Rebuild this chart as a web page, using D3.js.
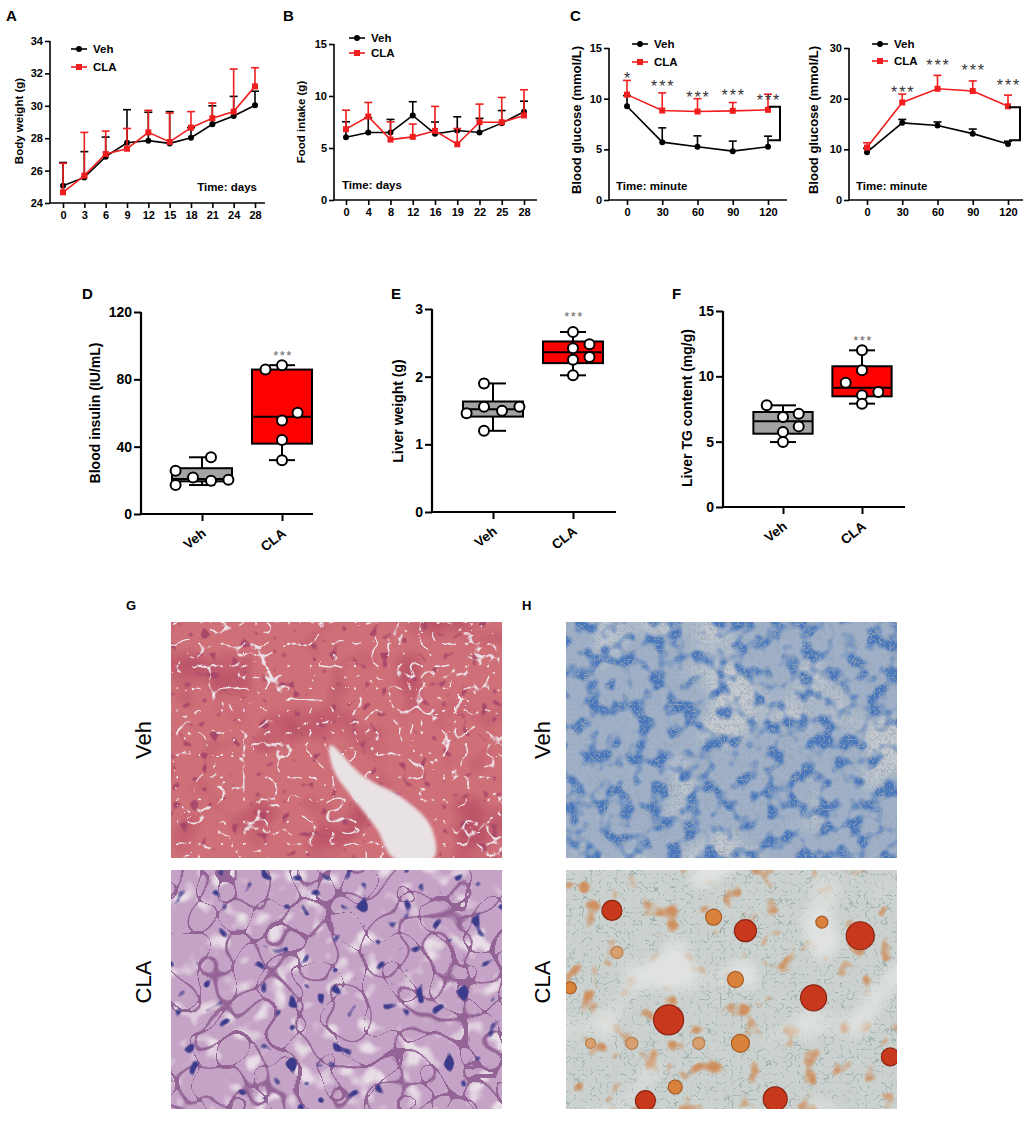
<!DOCTYPE html>
<html><head><meta charset="utf-8">
<script src="https://cdn.jsdelivr.net/npm/d3@7"></script>
<style>body{margin:0;background:#fff}svg{display:block}text{font-family:"Liberation Sans",Arial,sans-serif}</style>
</head><body><svg id="fig" width="1030" height="1130"></svg>
<script>
// ---------------- DATA ----------------
// A: body weight
const aDays = ["0","3","6","9","12","15","18","21","24","28"];
const aVeh = [25.07,25.58,26.86,27.72,27.85,27.68,28.03,28.86,29.37,30.03];
const aVehErr = [26.5,27.17,28.07,29.76,29.6,29.64,28.65,30.0,30.58,30.9];
const aCla = [24.66,25.69,27.03,27.35,28.36,27.77,28.65,29.23,29.64,31.2];
const aClaErr = [26.45,28.36,28.44,28.6,29.72,29.55,29.64,30.17,32.27,32.35];
const aYTicks = [24,26,28,30,32,34];
// B: food intake
const bDays = ["0","4","8","12","16","19","22","25","28"];
const bVeh = [6.04,6.49,6.49,8.13,6.36,6.68,6.49,7.39,8.48];
const bVehErr = [7.52,7.9,7.75,9.45,7.5,8.0,7.85,8.6,9.5];
const bCla = [6.81,8.03,5.81,6.07,6.65,5.36,7.48,7.48,8.13];
const bClaErr = [8.64,9.38,7.52,7.3,9.0,6.87,9.22,9.86,10.6];
const bYTicks = [0,5,10,15];
// C: blood glucose (time in minutes)
const cTimes = [0,30,60,90,120];
const cLVeh = [9.25,5.71,5.25,4.82,5.25];
const cLVehErr = [10.3,7.12,6.33,5.81,6.3];
const cLCla = [10.4,8.83,8.73,8.8,8.9];
const cLClaErr = [11.8,10.57,10.0,9.62,10.44];
const cLStars = ["*","***","***","***","***"];
const cLStarY = [12.3,11.5,10.5,10.7,10.2];
const cLBracket = [9.2,5.9];
const cLYTicks = [0,5,10,15];
const cRVeh = [9.43,15.23,14.7,13.1,11.07];
const cRVehErr = [10.2,15.9,15.4,14.0,11.6];
const cRCla = [10.35,19.25,21.95,21.5,18.5];
const cRClaErr = [11.3,20.9,24.6,23.5,20.7];
const cRStars = ["","***","***","***","***"];
const cRStarY = [0,21.9,27.2,26.2,23.3];
const cRBracket = [18.3,11.8];
const cRYTicks = [0,10,20,30];
// D/E/F box plots: groups
const groups = ["Veh","CLA"];
// box stats: [min, q1, median, q3, max]
const dVehBox = [17.2,19.4,20.8,27.2,33.7];
const dClaBox = [32.0,41.8,57.8,85.8,88.4];
const dVehPts = [25.7,17.2,21.7,19.7,20.3,33.7];
const dVehJit = [-0.88,-0.88,-0.3,0.3,0.88,0.3];
const dClaPts = [85.8,88.4,60.2,55.5,44.0,32.0];
const dClaJit = [-0.55,0,0.52,0,0,0];
const dYTicks = [0,40,80,120];
const eVehBox = [1.2,1.41,1.52,1.633,1.9];
const eClaBox = [2.02,2.2,2.36,2.52,2.66];
const eVehPts = [1.9,1.555,1.46,1.495,1.555,1.2];
const eVehJit = [-0.3,-0.3,-0.88,0.3,0.88,-0.3];
const eClaPts = [2.66,2.42,2.48,2.25,2.29,2.02];
const eClaJit = [0,0,0.55,0,0.55,0];
const eYTicks = [0,1,2,3];
const fVehBox = [4.97,5.61,6.56,7.27,7.78];
const fClaBox = [7.91,8.47,9.13,10.77,11.99];
const fVehPts = [7.78,6.89,7.14,6.17,5.74,4.97];
const fVehJit = [-0.55,0,0.53,0.53,0,0];
const fClaPts = [12.0,10.46,9.5,8.8,8.55,7.91];
const fClaJit = [0,0,-0.55,0.55,0,0];
const fYTicks = [0,5,10,15];
const boxStars = ["***","***","***"];
const boxStarY = [95.7,2.93,12.9];
// H (Oil red O) lipid droplets: relative position in image, radius, tone
const droplets = [
 [.139,.169,10,"r"],[.446,.197,8,"o"],[.542,.254,11,"r"],[.889,.275,14,"r"],[.773,.218,6,"o"],
 [.512,.458,8,"o"],[.748,.535,13,"r"],[.310,.627,15,"r"],[.527,.725,9,"o"],[.98,.782,9,"r"],
 [.330,.908,7,"o"],[.240,.965,10,"r"],[.632,.958,12,"r"],[.013,.493,6,"o"],[.074,.725,5,"l"],
 [.199,.725,6,"l"],[.401,.725,6,"l"],[.154,.345,6,"l"]];
const vessel = [[.481,.521],[.582,.655],[.693,.739],[.784,.863],[.794,1],[.673,1],[.623,.880],[.562,.768],[.491,.627]];

// ---------------- DRAW ----------------
const svg = d3.select("#fig");
svg.append("rect").attr("width",1030).attr("height",1130).attr("fill","#fff");
const defs = svg.append("defs");
const RED = "#f01e1e", BLK = "#000";

function label(t,x,y,fs){
  svg.append("text").attr("x",x).attr("y",y).attr("font-size",fs).attr("font-weight","bold").text(t);
}
function styleAxis(g, fs, sw){
  g.selectAll("path,line").attr("stroke","#000").attr("stroke-width",sw);
  g.selectAll("text").attr("font-size",fs).attr("font-weight","bold").attr("fill","#000")
   .attr("font-family",'"Liberation Sans", Arial, sans-serif');
}
function yTitle(t,cx,cy,fs){
  svg.append("text").attr("transform",`translate(${cx+0.36*fs},${cy}) rotate(-90)`)
    .attr("text-anchor","middle").attr("font-size",fs).attr("font-weight","bold").text(t);
}

function lineChart(c){
  const g = svg.append("g");
  const x = c.x, y = c.y;
  const yb = y.range()[0], yt = y.range()[1];
  const ya = g.append("g").attr("transform",`translate(${c.x0},0)`)
    .call(d3.axisLeft(y).tickValues(c.yTicks).tickSize(5).tickPadding(2));
  ya.select(".domain").remove();
  g.append("line").attr("x1",c.x0).attr("x2",c.x0).attr("y1",yt).attr("y2",yb).attr("stroke","#000").attr("stroke-width",1.6);
  styleAxis(ya,c.fs,1.6);
  const xa = g.append("g").attr("transform",`translate(0,${yb})`)
    .call(d3.axisBottom(x).tickValues(c.xTicks).tickSize(5).tickPadding(3).tickFormat(c.fmt||(d=>d)));
  xa.select(".domain").remove();
  g.append("line").attr("x1",c.x0).attr("x2",c.x1).attr("y1",yb).attr("y2",yb).attr("stroke","#000").attr("stroke-width",1.6);
  styleAxis(xa,c.fs,1.6);
  const series = [{v:c.veh,e:c.vehErr,col:BLK,m:"c"},{v:c.cla,e:c.claErr,col:RED,m:"s"}];
  series.forEach(s=>{
    const pts = c.xTicks.map((k,i)=>({x:x(k),y:y(s.v[i]),e:y(s.e[i])}));
    g.selectAll(null).data(pts).join("line").attr("x1",d=>d.x).attr("x2",d=>d.x).attr("y1",d=>d.y).attr("y2",d=>d.e)
      .attr("stroke",s.col).attr("stroke-width",1.6);
    g.selectAll(null).data(pts).join("line").attr("x1",d=>d.x-4).attr("x2",d=>d.x+4).attr("y1",d=>d.e).attr("y2",d=>d.e)
      .attr("stroke",s.col).attr("stroke-width",1.6);
    g.append("path").datum(pts).attr("d",d3.line().x(d=>d.x).y(d=>d.y)).attr("fill","none").attr("stroke",s.col).attr("stroke-width",1.6);
    if(s.m==="c") g.selectAll(null).data(pts).join("circle").attr("cx",d=>d.x).attr("cy",d=>d.y).attr("r",3).attr("fill",s.col);
    else g.selectAll(null).data(pts).join("rect").attr("x",d=>d.x-3).attr("y",d=>d.y-3).attr("width",6).attr("height",6).attr("fill",s.col);
  });
  // legend
  const L = c.leg;
  [["Veh",BLK,"c",L.y1],["CLA",RED,"s",L.y2]].forEach(([t,col,m,yy])=>{
    g.append("line").attr("x1",L.x).attr("x2",L.x+16).attr("y1",yy).attr("y2",yy).attr("stroke",col).attr("stroke-width",1.6);
    if(m==="c") g.append("circle").attr("cx",L.x+8).attr("cy",yy).attr("r",3).attr("fill",col);
    else g.append("rect").attr("x",L.x+5).attr("y",yy-3).attr("width",6).attr("height",6).attr("fill",col);
    g.append("text").attr("x",L.x+22).attr("y",yy+4).attr("font-size",c.lfs).attr("font-weight","bold").text(t);
  });
  g.append("text").attr("x",c.time.x).attr("y",c.time.y).attr("text-anchor",c.time.anchor)
    .attr("font-size",c.lfs).attr("font-weight","bold").text(c.time.t);
  if(c.stars){
    c.xTicks.forEach((k,i)=>{
      if(!c.stars[i]) return;
      g.append("text").attr("x",x(k)+1).attr("y",y(c.starY[i])+9).attr("text-anchor","middle")
        .attr("font-size",16).attr("letter-spacing",2).attr("fill","#333").text(c.stars[i]);
    });
    const bx = x(c.xTicks[c.xTicks.length-1]);
    const b1 = y(c.bracket[0]), b2 = y(c.bracket[1]);
    g.append("path").attr("d",`M${bx+1},${b1}H${bx+12}V${b2}H${bx+1}`).attr("fill","none").attr("stroke","#000").attr("stroke-width",2);
  }
}

// Panel A
label("A",6,21,15);
lineChart({x:d3.scalePoint().domain(aDays).range([63,255]), y:d3.scaleLinear().domain([24,34]).range([203,41]),
  x0:50,x1:265,xTicks:aDays,yTicks:aYTicks,veh:aVeh,vehErr:aVehErr,cla:aCla,claErr:aClaErr,fs:11,lfs:11.5,
  leg:{x:71,y1:49,y2:67}, time:{x:257,y:191,anchor:"end",t:"Time: days"}});
yTitle("Body weight (g)",19,121,11.5);
// Panel B
label("B",283,21,15);
lineChart({x:d3.scalePoint().domain(bDays).range([346,524]), y:d3.scaleLinear().domain([0,15]).range([200,44]),
  x0:334,x1:537,xTicks:bDays,yTicks:bYTicks,veh:bVeh,vehErr:bVehErr,cla:bCla,claErr:bClaErr,fs:11,lfs:11.5,
  leg:{x:349,y1:38,y2:53}, time:{x:342,y:189,anchor:"start",t:"Time: days"}});
yTitle("Food intake (g)",301,122,11.5);
// Panel C
label("C",570,21,15);
lineChart({x:d3.scaleLinear().domain([0,120]).range([627,768]), y:d3.scaleLinear().domain([0,15]).range([200,48]),
  x0:609,x1:787,xTicks:cTimes,yTicks:cLYTicks,veh:cLVeh,vehErr:cLVehErr,cla:cLCla,claErr:cLClaErr,fs:11,lfs:11.5,
  leg:{x:632,y1:44,y2:62}, time:{x:616,y:190,anchor:"start",t:"Time: minute"},
  stars:cLStars,starY:cLStarY,bracket:cLBracket});
yTitle("Blood glucose (mmol/L)",576,120,13);
lineChart({x:d3.scaleLinear().domain([0,120]).range([867,1008]), y:d3.scaleLinear().domain([0,30]).range([200,48]),
  x0:849,x1:1023,xTicks:cTimes,yTicks:cRYTicks,veh:cRVeh,vehErr:cRVehErr,cla:cRCla,claErr:cRClaErr,fs:11,lfs:11.5,
  leg:{x:872,y1:44,y2:61}, time:{x:856,y:190,anchor:"start",t:"Time: minute"},
  stars:cRStars,starY:cRStarY,bracket:cRBracket});
yTitle("Blood glucose (mmol/L)",813,120,13);

// Box charts
function boxChart(c){
  const g = svg.append("g");
  const y = c.y, x = c.x;
  const yb = y.range()[0], yt = y.range()[1];
  const hw = x.step()*0.375;
  const ya = g.append("g").attr("transform",`translate(${c.x0},0)`)
    .call(d3.axisLeft(y).tickValues(c.yTicks).tickSize(7).tickPadding(2).tickFormat(d3.format("d")));
  ya.select(".domain").remove();
  styleAxis(ya,14,2);
  g.append("line").attr("x1",c.x0).attr("x2",c.x0).attr("y1",yt).attr("y2",yb+1).attr("stroke","#000").attr("stroke-width",2.2);
  const xa = g.append("g").attr("transform",`translate(0,${yb})`)
    .call(d3.axisBottom(x).tickSize(7).tickFormat(""));
  xa.select(".domain").remove();
  styleAxis(xa,13,2);
  g.append("line").attr("x1",c.x0).attr("x2",c.x1).attr("y1",yb).attr("y2",yb).attr("stroke","#000").attr("stroke-width",2.2);
  groups.forEach(k=>{
    g.append("text").attr("transform",`translate(${x(k)+5},${yb+21}) rotate(-38)`).attr("text-anchor","end")
      .attr("font-size",13.5).attr("font-weight","bold").text(k);
  });
  const sets = [{k:"Veh",b:c.vehBox,p:c.vehPts,j:c.vehJit,fill:"#a3a3a3"},{k:"CLA",b:c.claBox,p:c.claPts,j:c.claJit,fill:"#ff0000"}];
  sets.forEach(s=>{
    const cx = x(s.k);
    const cw = 13;
    g.append("line").attr("x1",cx).attr("x2",cx).attr("y1",y(s.b[0])).attr("y2",y(s.b[4])).attr("stroke","#000").attr("stroke-width",2);
    [s.b[0],s.b[4]].forEach(v=>g.append("line").attr("x1",cx-cw).attr("x2",cx+cw).attr("y1",y(v)).attr("y2",y(v)).attr("stroke","#000").attr("stroke-width",2));
    g.append("rect").attr("x",cx-hw).attr("width",2*hw).attr("y",y(s.b[3])).attr("height",y(s.b[1])-y(s.b[3]))
      .attr("fill",s.fill).attr("stroke","#000").attr("stroke-width",2);
    g.append("line").attr("x1",cx-hw).attr("x2",cx+hw).attr("y1",y(s.b[2])).attr("y2",y(s.b[2])).attr("stroke","#000").attr("stroke-width",2);
    g.selectAll(null).data(s.p).join("circle").attr("cx",(d,i)=>cx+s.j[i]*hw).attr("cy",d=>y(d)).attr("r",5)
      .attr("fill","#fff").attr("stroke","#000").attr("stroke-width",2);
  });
  g.append("text").attr("x",x("CLA")+1).attr("y",y(c.starY)+7).attr("text-anchor","middle")
    .attr("font-size",13).attr("letter-spacing",1.5).attr("fill","#666").text(c.star);
}
label("D",82,299,15);
boxChart({x:d3.scalePoint().domain(groups).range([202,282]), y:d3.scaleLinear().domain([0,120]).range([514,312]),
  x0:141,x1:313,yTicks:dYTicks,vehBox:dVehBox,claBox:dClaBox,vehPts:dVehPts,vehJit:dVehJit,claPts:dClaPts,claJit:dClaJit,
  star:boxStars[0],starY:boxStarY[0]});
yTitle("Blood insulin (IU/mL)",95,413,14);
label("E",391,299,15);
boxChart({x:d3.scalePoint().domain(groups).range([493,573]), y:d3.scaleLinear().domain([0,3]).range([512,309]),
  x0:432,x1:616,yTicks:eYTicks,vehBox:eVehBox,claBox:eClaBox,vehPts:eVehPts,vehJit:eVehJit,claPts:eClaPts,claJit:eClaJit,
  star:boxStars[1],starY:boxStarY[1]});
yTitle("Liver weight (g)",398,411,14);
label("F",672,299,15);
boxChart({x:d3.scalePoint().domain(groups).range([783,862]), y:d3.scaleLinear().domain([0,15]).range([507,311]),
  x0:723,x1:905,yTicks:fYTicks,vehBox:fVehBox,claBox:fClaBox,vehPts:fVehPts,vehJit:fVehJit,claPts:fClaPts,claJit:fClaJit,
  star:boxStars[2],starY:boxStarY[2]});
yTitle("Liver TG content (mg/g)",687,408,14);

// ---------------- Histology images (procedural textures) ----------------
function hexToRgb01(h){const c=d3.rgb(h);return [c.r/255,c.g/255,c.b/255];}
function histo(id,x,y,w,h,base,layers){
  const f = defs.append("filter").attr("id",id).attr("filterUnits","userSpaceOnUse")
    .attr("x",x).attr("y",y).attr("width",w).attr("height",h).attr("color-interpolation-filters","sRGB");
  f.append("feFlood").attr("flood-color",base).attr("result","base");
  layers.forEach((L,i)=>{
    f.append("feTurbulence").attr("type",L.type).attr("baseFrequency",L.f).attr("numOctaves",L.o).attr("seed",L.s).attr("result","n"+i);
    const [r,gg,b] = hexToRgb01(L.c);
    f.append("feColorMatrix").attr("in","n"+i).attr("type","matrix")
      .attr("values",`0 0 0 0 ${r}  0 0 0 0 ${gg}  0 0 0 0 ${b}  ${L.k} 0 0 0 ${L.b}`).attr("result","l"+i);
  });
  const m = f.append("feMerge");
  m.append("feMergeNode").attr("in","base");
  layers.forEach((L,i)=>m.append("feMergeNode").attr("in","l"+i));
  const cp = defs.append("clipPath").attr("id",id+"c");
  cp.append("rect").attr("x",x).attr("y",y).attr("width",w).attr("height",h);
  const g = svg.append("g").attr("clip-path",`url(#${id}c)`);
  g.append("rect").attr("x",x).attr("y",y).attr("width",w).attr("height",h).attr("fill",base).attr("filter",`url(#${id})`);
  return g;
}
label("G",126,610,13);
label("H",522,610,13);
const gx=171, gw=331, hx=566, hw2=331, r1y=622, r1h=236, r2y=870, r2h=239;
const gVeh = histo("gveh",gx,r1y,gw,r1h,"#cf6f78",[
  {type:"fractalNoise",f:0.02,o:2,s:3,c:"#bb5468",k:4,b:-2.1},
  {type:"fractalNoise",f:0.1,o:1,s:7,c:"#a8486a",k:12,b:-7.7},
  {type:"turbulence",f:0.045,o:2,s:11,c:"#ede4ea",k:-18,b:1.5}]);
const vs = d3.scaleLinear().range([gx,gx+gw]), vy = d3.scaleLinear().range([r1y,r1y+r1h]);
defs.append("filter").attr("id","soft").append("feGaussianBlur").attr("stdDeviation",1.5);
gVeh.append("path").attr("d",d3.line().x(d=>vs(d[0])).y(d=>vy(d[1])).curve(d3.curveCatmullRomClosed)(vessel))
  .attr("fill","#e9e2e4").attr("filter","url(#soft)");
histo("gcla",gx,r2y,gw,r2h,"#c5a3c6",[
  {type:"fractalNoise",f:0.045,o:2,s:5,c:"#e8dde6",k:5,b:-2.7},
  {type:"turbulence",f:0.03,o:1,s:9,c:"#946496",k:-30,b:1.4},
  {type:"fractalNoise",f:0.07,o:1,s:21,c:"#3c3a8a",k:16,b:-10.6}]);
histo("hveh",hx,r1y,hw2,r1h,"#9fb0c8",[
  {type:"fractalNoise",f:0.012,o:2,s:4,c:"#c4c9cf",k:7,b:-3.9},
  {type:"fractalNoise",f:0.06,o:2,s:8,c:"#4a78bb",k:5,b:-2.4},
  {type:"turbulence",f:0.2,o:1,s:12,c:"#9aa6b4",k:-10,b:0.8}]);
const hCla = histo("hcla",hx,r2y,hw2,r2h,"#cbd1ce",[
  {type:"turbulence",f:0.12,o:2,s:6,c:"#93aaa7",k:-10,b:1.1},
  {type:"fractalNoise",f:0.05,o:2,s:14,c:"#cf9060",k:6,b:-3.7},
  {type:"fractalNoise",f:0.02,o:1,s:2,c:"#dfe2e0",k:6,b:-3.3}]);
const tone = {r:["#c8381c","#8c2410"],o:["#d9823c","#a85a22"],l:["#d8a070","#b88050"]};
const dx = d3.scaleLinear().range([hx,hx+hw2]), dy = d3.scaleLinear().range([r2y,r2y+r2h]);
hCla.selectAll(null).data(droplets).join("circle").attr("cx",d=>dx(d[0])).attr("cy",d=>dy(d[1])).attr("r",d=>d[2])
  .attr("fill",d=>tone[d[3]][0]).attr("stroke",d=>tone[d[3]][1]).attr("stroke-width",1.2);
// row labels
[[143,740,"Veh"],[143,982,"CLA"],[542,740,"Veh"],[542,982,"CLA"]].forEach(([cx,cy,t])=>{
  svg.append("text").attr("transform",`translate(${cx+8},${cy}) rotate(-90)`).attr("text-anchor","middle")
    .attr("font-size",22).text(t);
});
</script></body></html>
